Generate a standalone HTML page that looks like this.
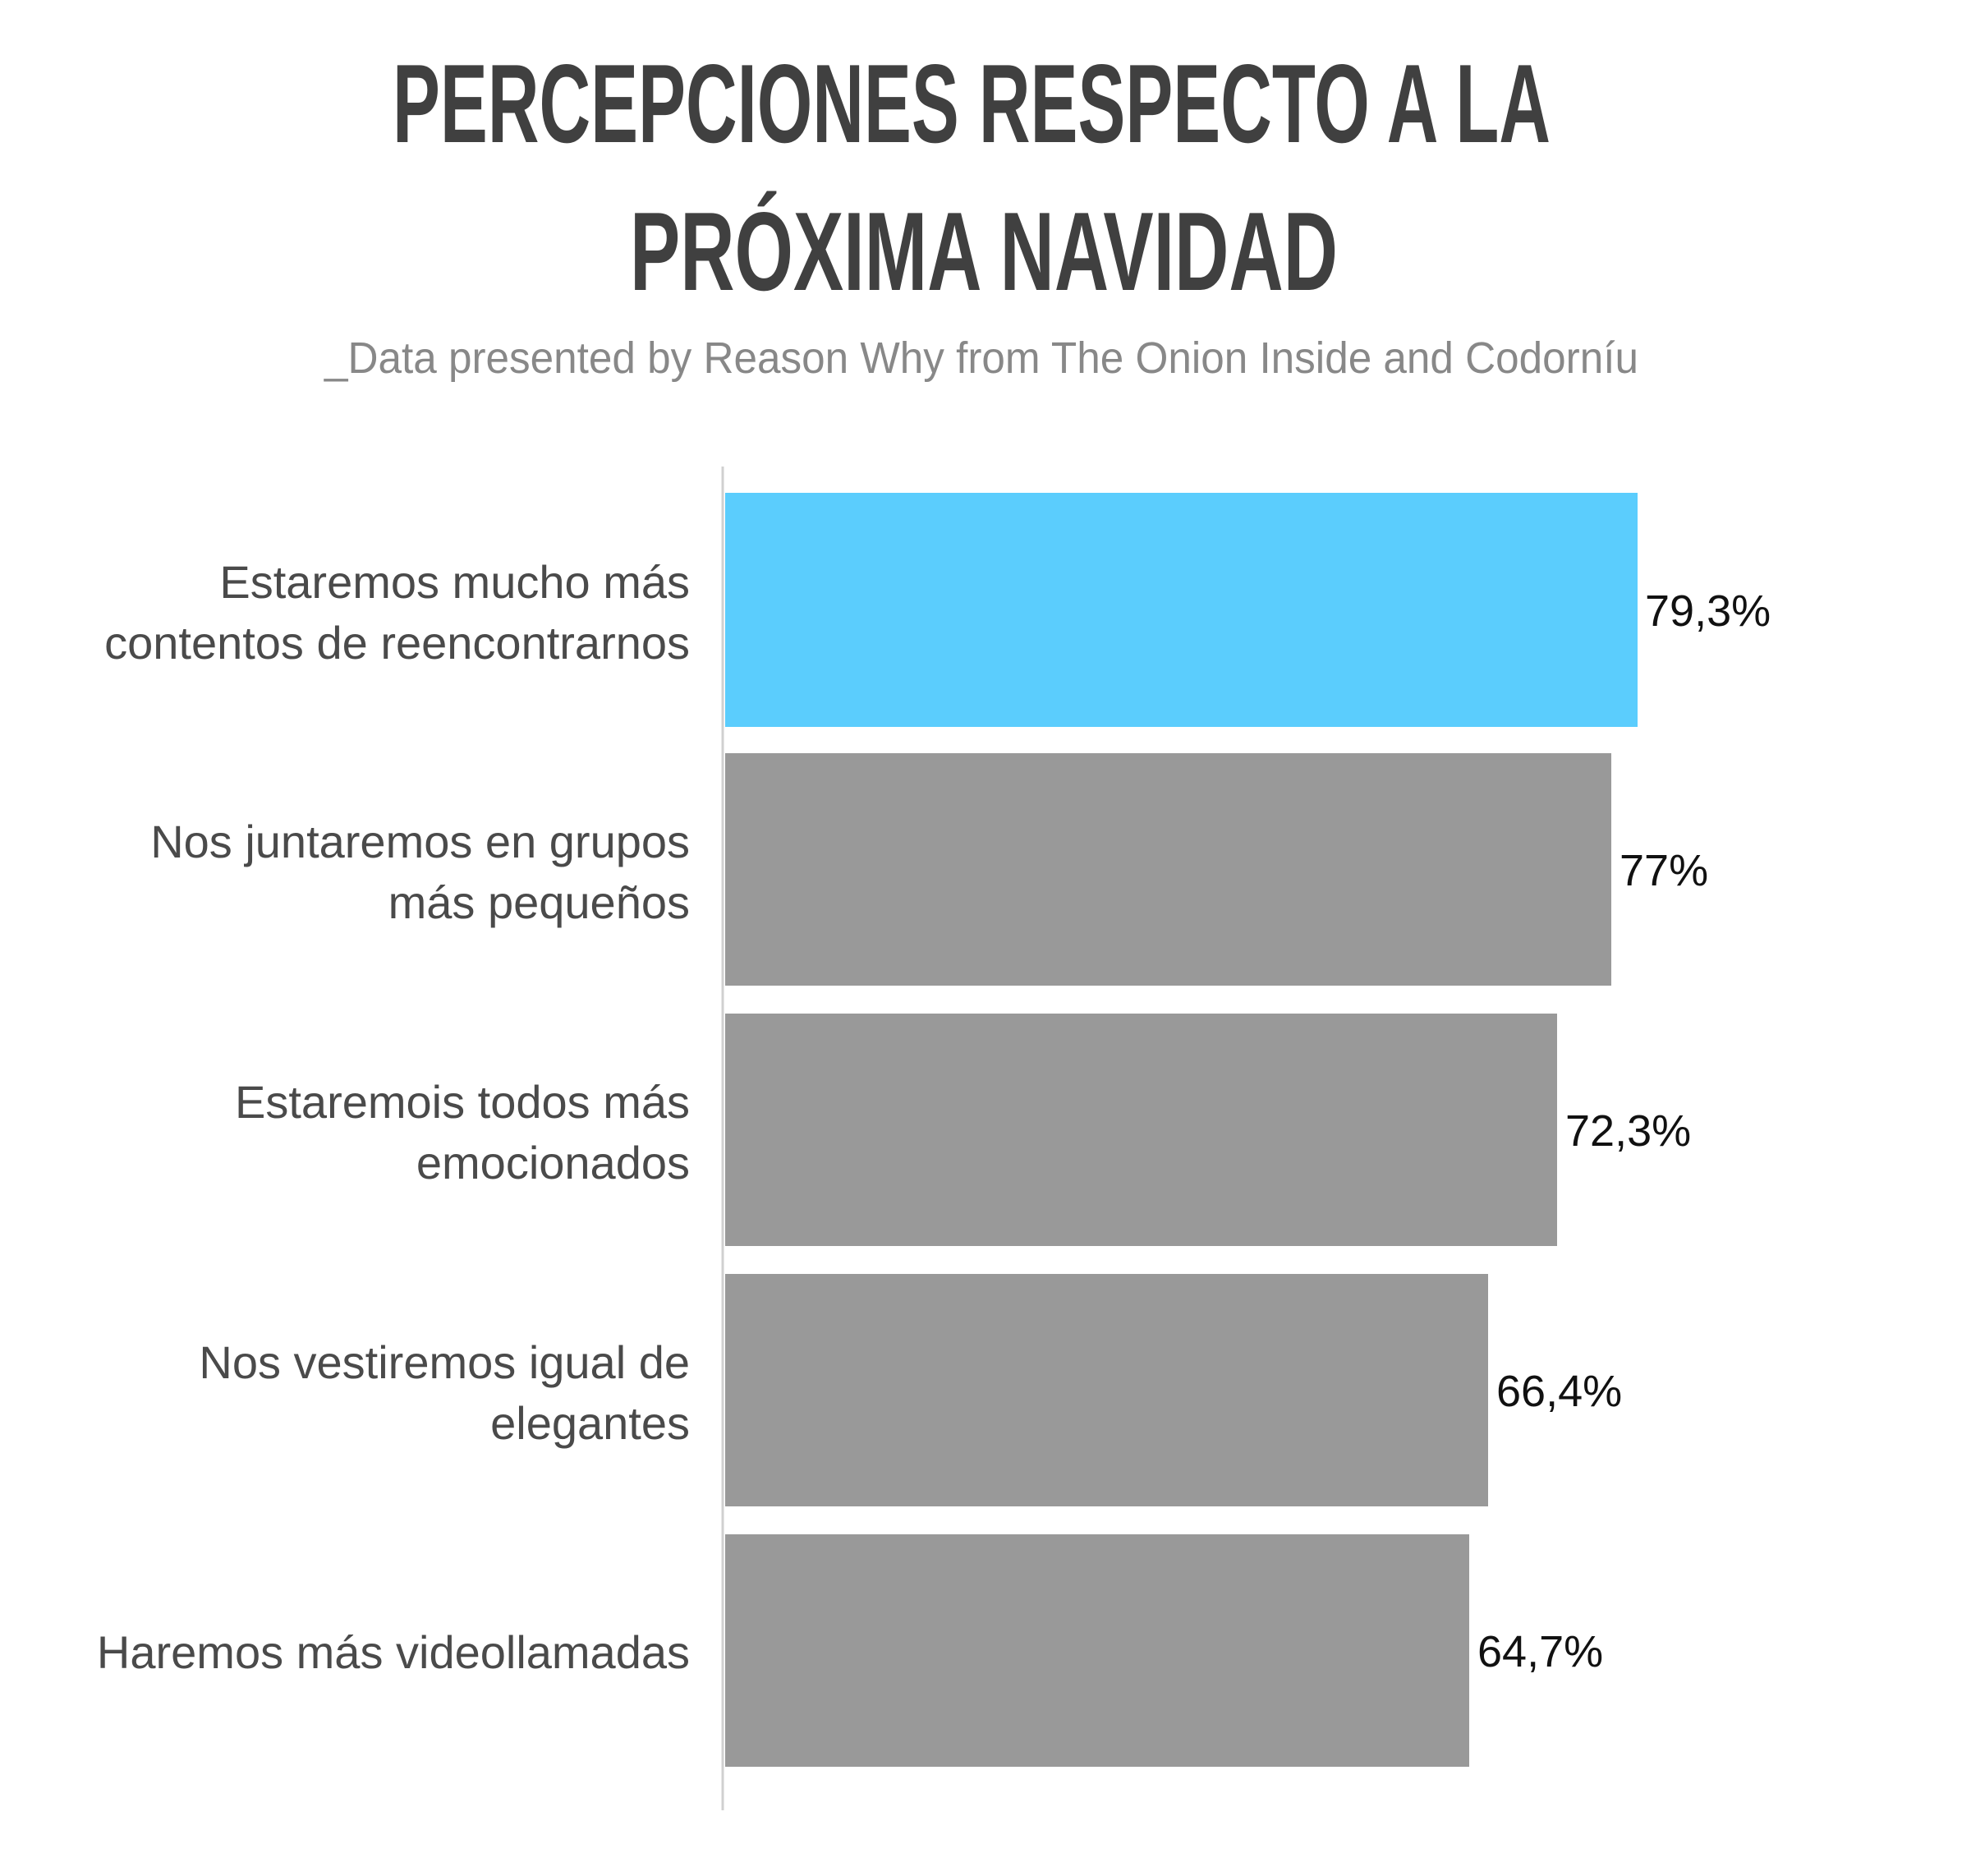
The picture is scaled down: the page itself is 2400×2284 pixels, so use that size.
<!DOCTYPE html>
<html><head><meta charset="utf-8"><style>html,body{margin:0;padding:0;background:#fff}svg{display:block}</style></head>
<body>
<svg width="2400" height="2284" viewBox="0 0 2400 2284" xmlns="http://www.w3.org/2000/svg">
<rect width="2400" height="2284" fill="#fff"/>
<g font-family="Liberation Sans, sans-serif" fill="#404040" font-weight="bold" text-anchor="start">
<text x="478" y="173" font-size="136" textLength="1410" lengthAdjust="spacingAndGlyphs">PERCEPCIONES RESPECTO A LA</text>
<text x="767" y="353" font-size="136" textLength="862" lengthAdjust="spacingAndGlyphs">PRÓXIMA NAVIDAD</text>
</g>
<text x="395" y="454" font-family="Liberation Sans, sans-serif" font-size="54" fill="#888" textLength="1600" lengthAdjust="spacingAndGlyphs">_Data presented by Reason Why from The Onion Inside and Codorníu</text>
<line x1="880" y1="568" x2="880" y2="2204" stroke="#d0d0d0" stroke-width="3"/>
<rect x="883" y="600" width="1111" height="285" fill="#5bcdfd"/>
<rect x="883" y="917" width="1079" height="283" fill="#999"/>
<rect x="883" y="1234" width="1013" height="283" fill="#999"/>
<rect x="883" y="1551" width="929" height="283" fill="#999"/>
<rect x="883" y="1868" width="906" height="283" fill="#999"/>
<g font-family="Liberation Sans, sans-serif" font-size="54" fill="#111">
<text x="2003" y="762">79,3%</text>
<text x="1972" y="1078">77%</text>
<text x="1906" y="1395">72,3%</text>
<text x="1822" y="1712">66,4%</text>
<text x="1799" y="2029">64,7%</text>
</g>
<g font-family="Liberation Sans, sans-serif" font-size="56" fill="#4a4a4a" text-anchor="end">
<text x="840" y="728">Estaremos mucho más</text>
<text x="840" y="802">contentos de reencontrarnos</text>
<text x="840" y="1044">Nos juntaremos en grupos</text>
<text x="840" y="1118">más pequeños</text>
<text x="840" y="1361">Estaremois todos más</text>
<text x="840" y="1435">emocionados</text>
<text x="840" y="1678">Nos vestiremos igual de</text>
<text x="840" y="1752">elegantes</text>
<text x="840" y="2031">Haremos más videollamadas</text>
</g>
</svg>
</body></html>
